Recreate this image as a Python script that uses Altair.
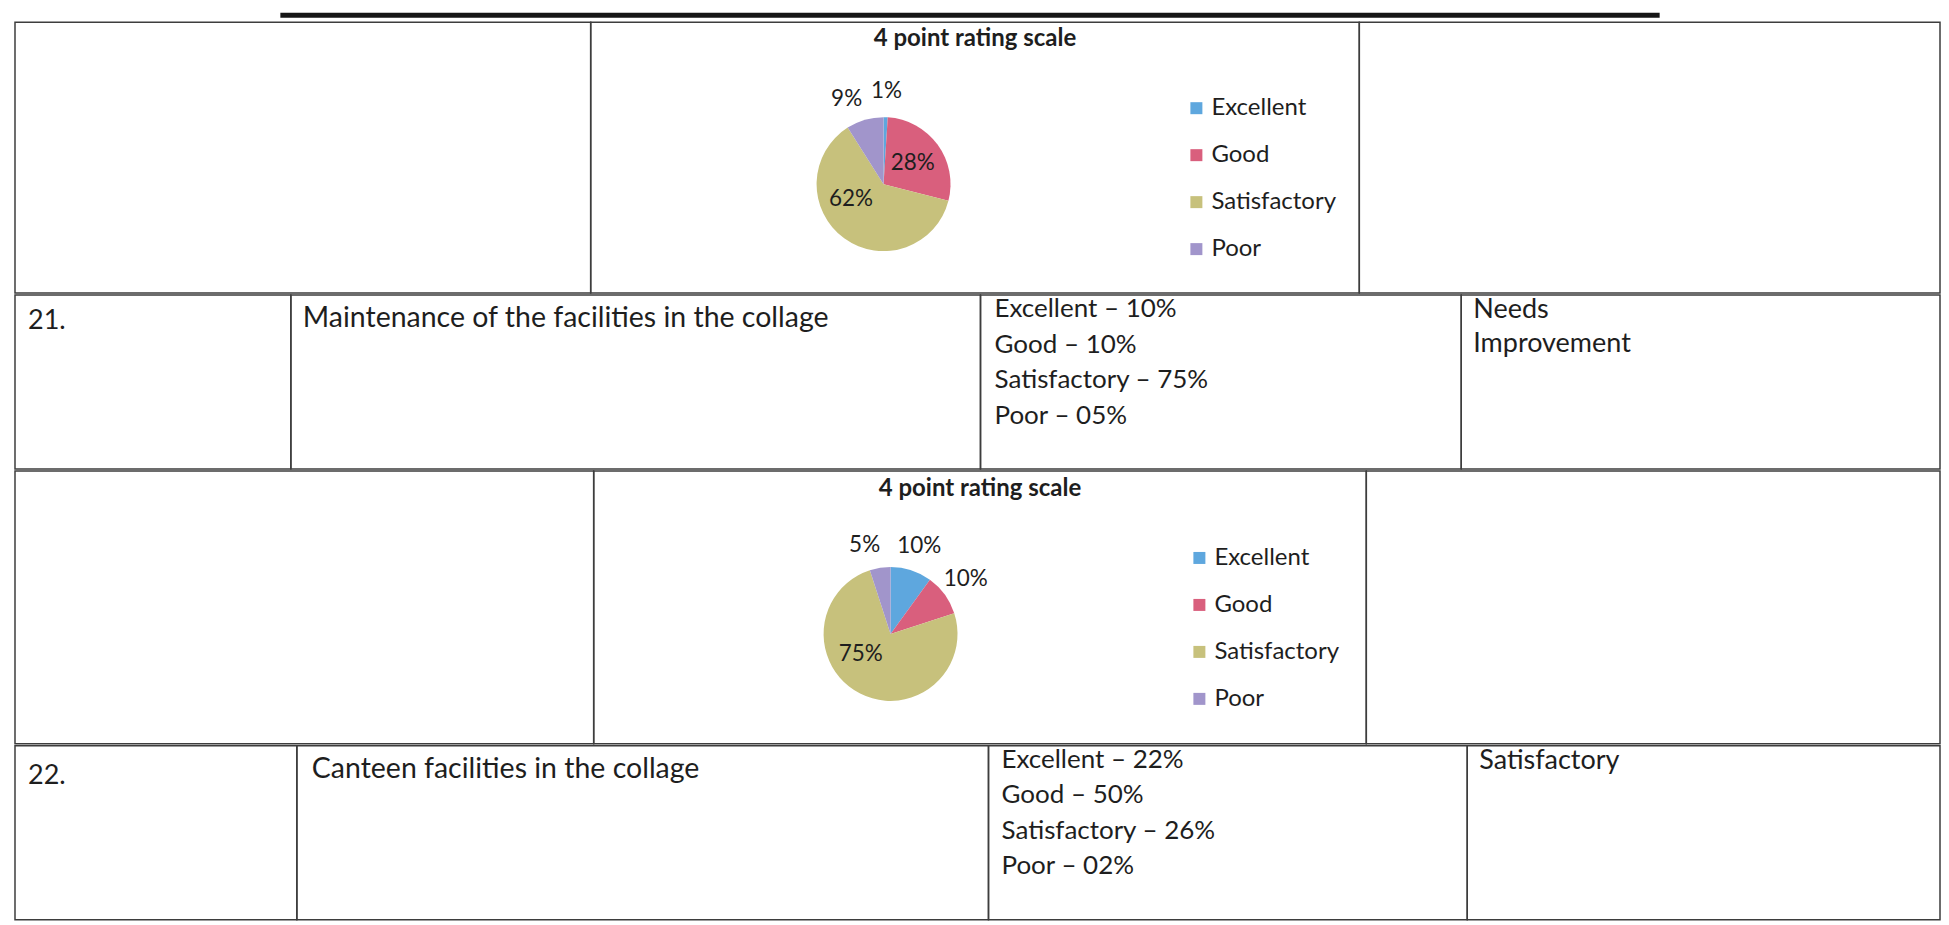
import math
import altair as alt
import pandas as pd

# ---------------- data ----------------
categories = ["Excellent", "Good", "Satisfactory", "Poor"]
slice_colors = ["#5ea7de", "#d95f7d", "#c7c17c", "#a195cb"]
pie_title = "4 point rating scale"

pie1_values = [1, 28, 62, 9]     # chart above item 21
pie2_values = [10, 10, 75, 5]    # chart for item 21

item_numbers = ["21.", "22."]
item_names = ["Maintenance of the facilities in the collage",
              "Canteen facilities in the collage"]
item21_percent = ["10%", "10%", "75%", "05%"]
item22_percent = ["22%", "50%", "26%", "02%"]
remark21 = ["Needs", "Improvement"]
remark22 = ["Satisfactory"]

# ---------------- style ----------------
FONT = "Lato"
TXT = "#1e1e1e"
LINE_COLOR = "#3d3d3d"


def text_cell(w, h, lines, dx=12, dy=10, size=27, line_h=35.5):
    df = pd.DataFrame({"t": ["\n".join(lines)]})
    return alt.Chart(df).mark_text(
        align="left", baseline="top", font=FONT, fontSize=size, color=TXT,
        lineBreak="\n", lineHeight=line_h
    ).encode(
        x=alt.value(dx), y=alt.value(dy), text="t:N"
    ).properties(width=w, height=h)


def rating_lines(pcts):
    return [f"{c} \u2013 {p}" for c, p in zip(categories, pcts)]


def pie_cell(values, w, h, cx, cy, title_y, legend_x, legend_y):
    df = pd.DataFrame({"category": categories, "value": values,
                       "idx": list(range(len(categories)))})
    base = alt.Chart(df)
    theta_scale = alt.Scale(domain=[0, 100], range=[0, 2 * math.pi])
    color = alt.Color(
        "category:N",
        scale=alt.Scale(domain=categories, range=slice_colors),
        legend=alt.Legend(
            title=None, orient="none", legendX=legend_x, legendY=legend_y,
            symbolType="square", symbolSize=144, symbolStrokeWidth=0,
            labelFont=FONT, labelFontSize=24, labelColor=TXT,
            rowPadding=23, labelOffset=3, padding=0,
        ),
    )
    arcs = base.mark_arc(outerRadius=67).encode(
        theta=alt.Theta("value:Q", stack=True, scale=theta_scale),
        color=color,
        order=alt.Order("idx:Q"),
        x=alt.value(cx), y=alt.value(cy),
    )
    # label angle: slice middle; small slices outside (nudged apart on the
    # left half), the large slice label nudged round like the spreadsheet's "best fit"
    lab = base.transform_window(
        cum="sum(value)", sort=[alt.SortField("idx")], frame=[None, 0]
    ).transform_calculate(
        mid="datum.cum - datum.value / 2",
        pct="datum.value + '%'",
    ).transform_calculate(
        tpos="datum.value < 20 ? (datum.mid > 50 ? datum.mid - 2 : datum.mid)"
             " : (datum.value > 50 ? datum.mid + 8 : datum.mid)"
    )
    inside = lab.transform_filter("datum.value >= 20").mark_text(
        radius=36, font=FONT, fontSize=22.5, color=TXT,
        align="center", baseline="middle"
    ).encode(
        theta=alt.Theta("tpos:Q", scale=theta_scale), text="pct:N",
        x=alt.value(cx), y=alt.value(cy),
    )
    outside = lab.transform_filter("datum.value < 20").mark_text(
        radius=93, font=FONT, fontSize=22.5, color=TXT,
        align="center", baseline="middle"
    ).encode(
        theta=alt.Theta("tpos:Q", scale=theta_scale), text="pct:N",
        x=alt.value(cx), y=alt.value(cy),
    )
    title = alt.Chart(pd.DataFrame({"t": [pie_title]})).mark_text(
        font=FONT, fontSize=24, fontWeight="bold", color=TXT,
        align="center", baseline="middle"
    ).encode(x=alt.value(w / 2), y=alt.value(title_y), text="t:N")
    return alt.layer(arcs, inside, outside, title).properties(width=w, height=h)


def row(*cells):
    return alt.hconcat(*cells, spacing=0, bounds="flush").resolve_scale(
        color="independent").resolve_legend(color="independent")


# page-edge bar of the scan
blank = alt.Chart(pd.DataFrame({"t": [""]})).mark_text().encode(text="t:N").properties(
    width=265, height=7, view=alt.ViewBackground(stroke="transparent"))
bar = alt.Chart(pd.DataFrame({"t": [""]})).mark_text().encode(text="t:N").properties(
    width=1380, height=5, view=alt.ViewBackground(fill="#161616", stroke="transparent"))
bar_row = alt.hconcat(blank, bar, spacing=0, bounds="flush")

row1 = row(
    text_cell(576, 271, [""]),
    pie_cell(pie1_values, 769, 271, 293, 162, 17, 594, 74),
    text_cell(581, 271, [""]),
)
row2 = row(
    text_cell(276, 174, [item_numbers[0]], dx=13, dy=13),
    text_cell(690, 174, [item_names[0]], dx=12, dy=9, size=28.5),
    text_cell(481, 174, rating_lines(item21_percent), dx=14, dy=1, size=26),
    text_cell(479, 174, remark21, dx=12, dy=2, line_h=33.5),
)
row3 = row(
    text_cell(579, 273, [""]),
    pie_cell(pie2_values, 773, 273, 297, 163, 18, 594, 75),
    text_cell(574, 273, [""]),
)
row4 = row(
    text_cell(282, 174, [item_numbers[1]], dx=13, dy=17),
    text_cell(692, 174, [item_names[1]], dx=15, dy=9, size=28.5),
    text_cell(479, 174, rating_lines(item22_percent), dx=13, dy=1, size=26),
    text_cell(473, 174, remark22, dx=12, dy=2),
)

chart = alt.vconcat(
    bar_row, row1, row2, row3, row4, spacing=0
).resolve_scale(color="independent").resolve_legend(color="independent").configure_view(
    stroke=LINE_COLOR, strokeWidth=1.5
).properties(
    padding={"left": 6, "top": 0, "right": 0, "bottom": 0},
    background="white",
)

chart.save("out.html", embed_options={"renderer": "svg", "actions": False})
